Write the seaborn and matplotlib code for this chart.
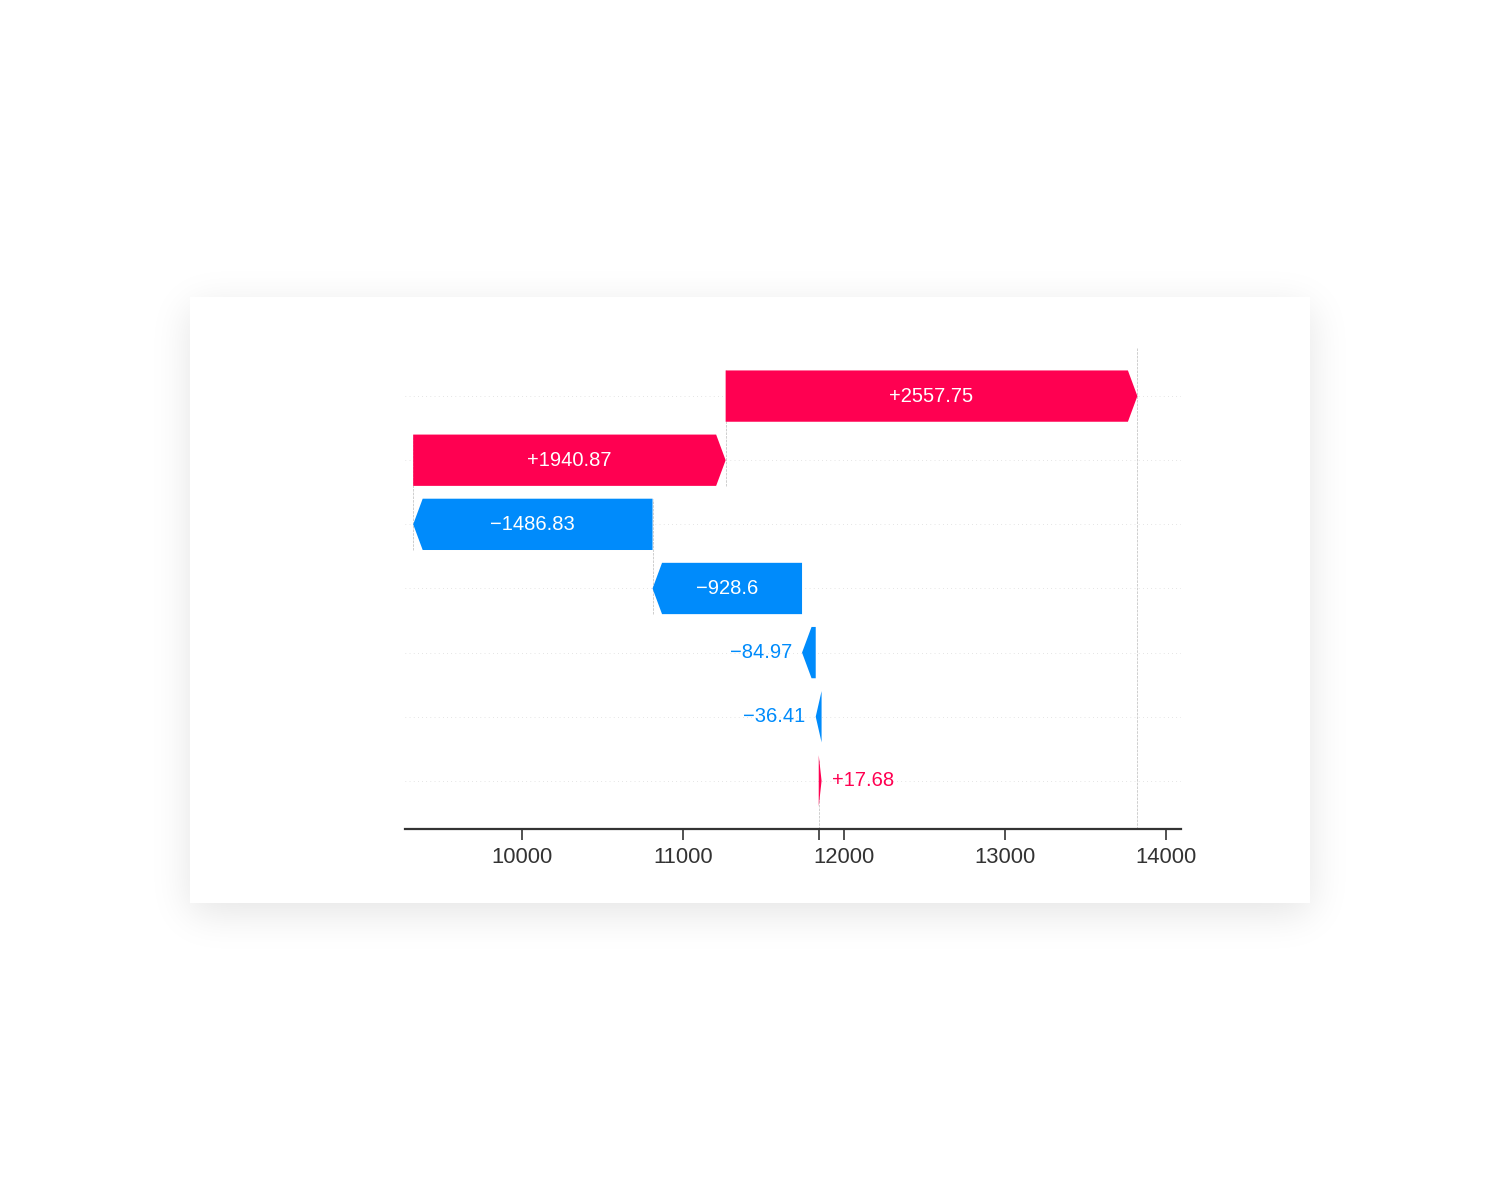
import math
import numpy as np
import matplotlib
matplotlib.use("Agg")
import matplotlib.pyplot as plt
from matplotlib.patches import Rectangle
import seaborn as sns

# waterfall values, top row first
shap_values = [2557.75, 1940.87, -1486.83, -928.6, -84.97, -36.41, 17.68]
base_value = 11843.0
x_ticks = [10000, 11000, 12000, 13000, 14000]

red = "#ff0051"
blue = "#008bfb"

sns.set_style("white")
plt.rcParams['font.family'] = ['Liberation Sans', 'DejaVu Sans']

W, H = 1500, 1200
fig = plt.figure(figsize=(W / 100, H / 100), dpi=100)
fig.patch.set_facecolor("white")

# soft shadow behind the card (pixel space, top-left origin)
card_l, card_r, card_t, card_b = 190, 1310, 297, 903
sigma = 20.0
shift = 10
erf = np.vectorize(math.erf)
xs = np.arange(W) + 0.5
ys = np.arange(H) + 0.5
gx = 0.5 * (erf((xs - card_l) / (sigma * math.sqrt(2))) - erf((xs - card_r) / (sigma * math.sqrt(2))))
gy = 0.5 * (erf((ys - card_t - shift) / (sigma * math.sqrt(2))) - erf((ys - card_b - shift) / (sigma * math.sqrt(2))))
alpha = 0.11 * np.outer(gy, gx)
shadow = np.zeros((H, W, 4))
shadow[..., 3] = alpha
fig.figimage(shadow, 0, 0, origin="upper", zorder=0)

card = Rectangle((card_l / W, 1 - card_b / H), (card_r - card_l) / W, (card_b - card_t) / H,
                 transform=fig.transFigure, facecolor="white", edgecolor="none", zorder=1)
fig.patches.append(card)

ax = fig.add_axes([0.27, 0.3092, 0.5173, 0.4008])
ax.patch.set_visible(False)
ax.set_zorder(2)

n = len(shap_values)
rows = list(range(n - 1, -1, -1))
fx = base_value + sum(shap_values)

ax.set_xlim(9273, 14093)
ax.set_ylim(-0.75, n - 0.25)
fig.canvas.draw()

bbox = ax.get_window_extent()
data_per_px = (14093 - 9273) / bbox.width
hl = 9.5 * data_per_px
bar_w = 0.8

for r in rows:
    ax.axhline(r, color="#cccccc", lw=0.5, dashes=(1, 5), zorder=-1)

ax.axvline(fx, 0, 1, color="#bbbbbb", linestyle="--", linewidth=0.5, zorder=-1)
ax.axvline(base_value, 0, 1 / n, color="#bbbbbb", linestyle="--", linewidth=0.5, zorder=-1)

renderer = fig.canvas.get_renderer()
loc = fx
for i, val in enumerate(shap_values):
    y = rows[i]
    loc -= val
    if i + 4 < n:
        ax.plot([loc, loc], [y - 1 - 0.4, y + 0.4], color="#bbbbbb",
                linestyle="--", linewidth=0.5, zorder=-1)
    color = red if val >= 0 else blue
    dist = abs(val)
    sign = 1 if val >= 0 else -1
    ax.arrow(loc, y, sign * max(dist - hl, 1e-6), 0,
             head_length=min(dist, hl), width=bar_w, head_width=bar_w,
             color=color, linewidth=0, zorder=3)
    label = "%+.2f" % val
    if label.endswith("0"):
        label = label.rstrip("0").rstrip(".")
    label = label.replace("-", "\u2212")
    txt = ax.text(loc + val / 2, y, label, ha="center", va="center",
                  color="white", fontsize=14.5, zorder=4)
    tw = txt.get_window_extent(renderer=renderer).width
    if tw > dist / data_per_px - 4:
        txt.remove()
        off = 10 * data_per_px
        if val >= 0:
            ax.text(loc + val + off, y, label, ha="left", va="center",
                    color=red, fontsize=14.5, zorder=4)
        else:
            ax.text(loc + val - off, y, label, ha="right", va="center",
                    color=blue, fontsize=14.5, zorder=4)

ax.set_xticks(x_ticks)
ax.set_xticklabels([str(t) for t in x_ticks])
ax.set_xticks([base_value], minor=True)
ax.set_yticks([])
ax.tick_params(axis="x", which="both", direction="out", length=8, width=1.2,
               color="#333333", labelsize=15.8, labelcolor="#333333", pad=5,
               bottom=True)
sns.despine(ax=ax, left=True, top=True, right=True)
ax.spines["bottom"].set_color("#333333")
ax.spines["bottom"].set_linewidth(1.6)

fig.savefig("out.png", dpi=100, facecolor="white")
